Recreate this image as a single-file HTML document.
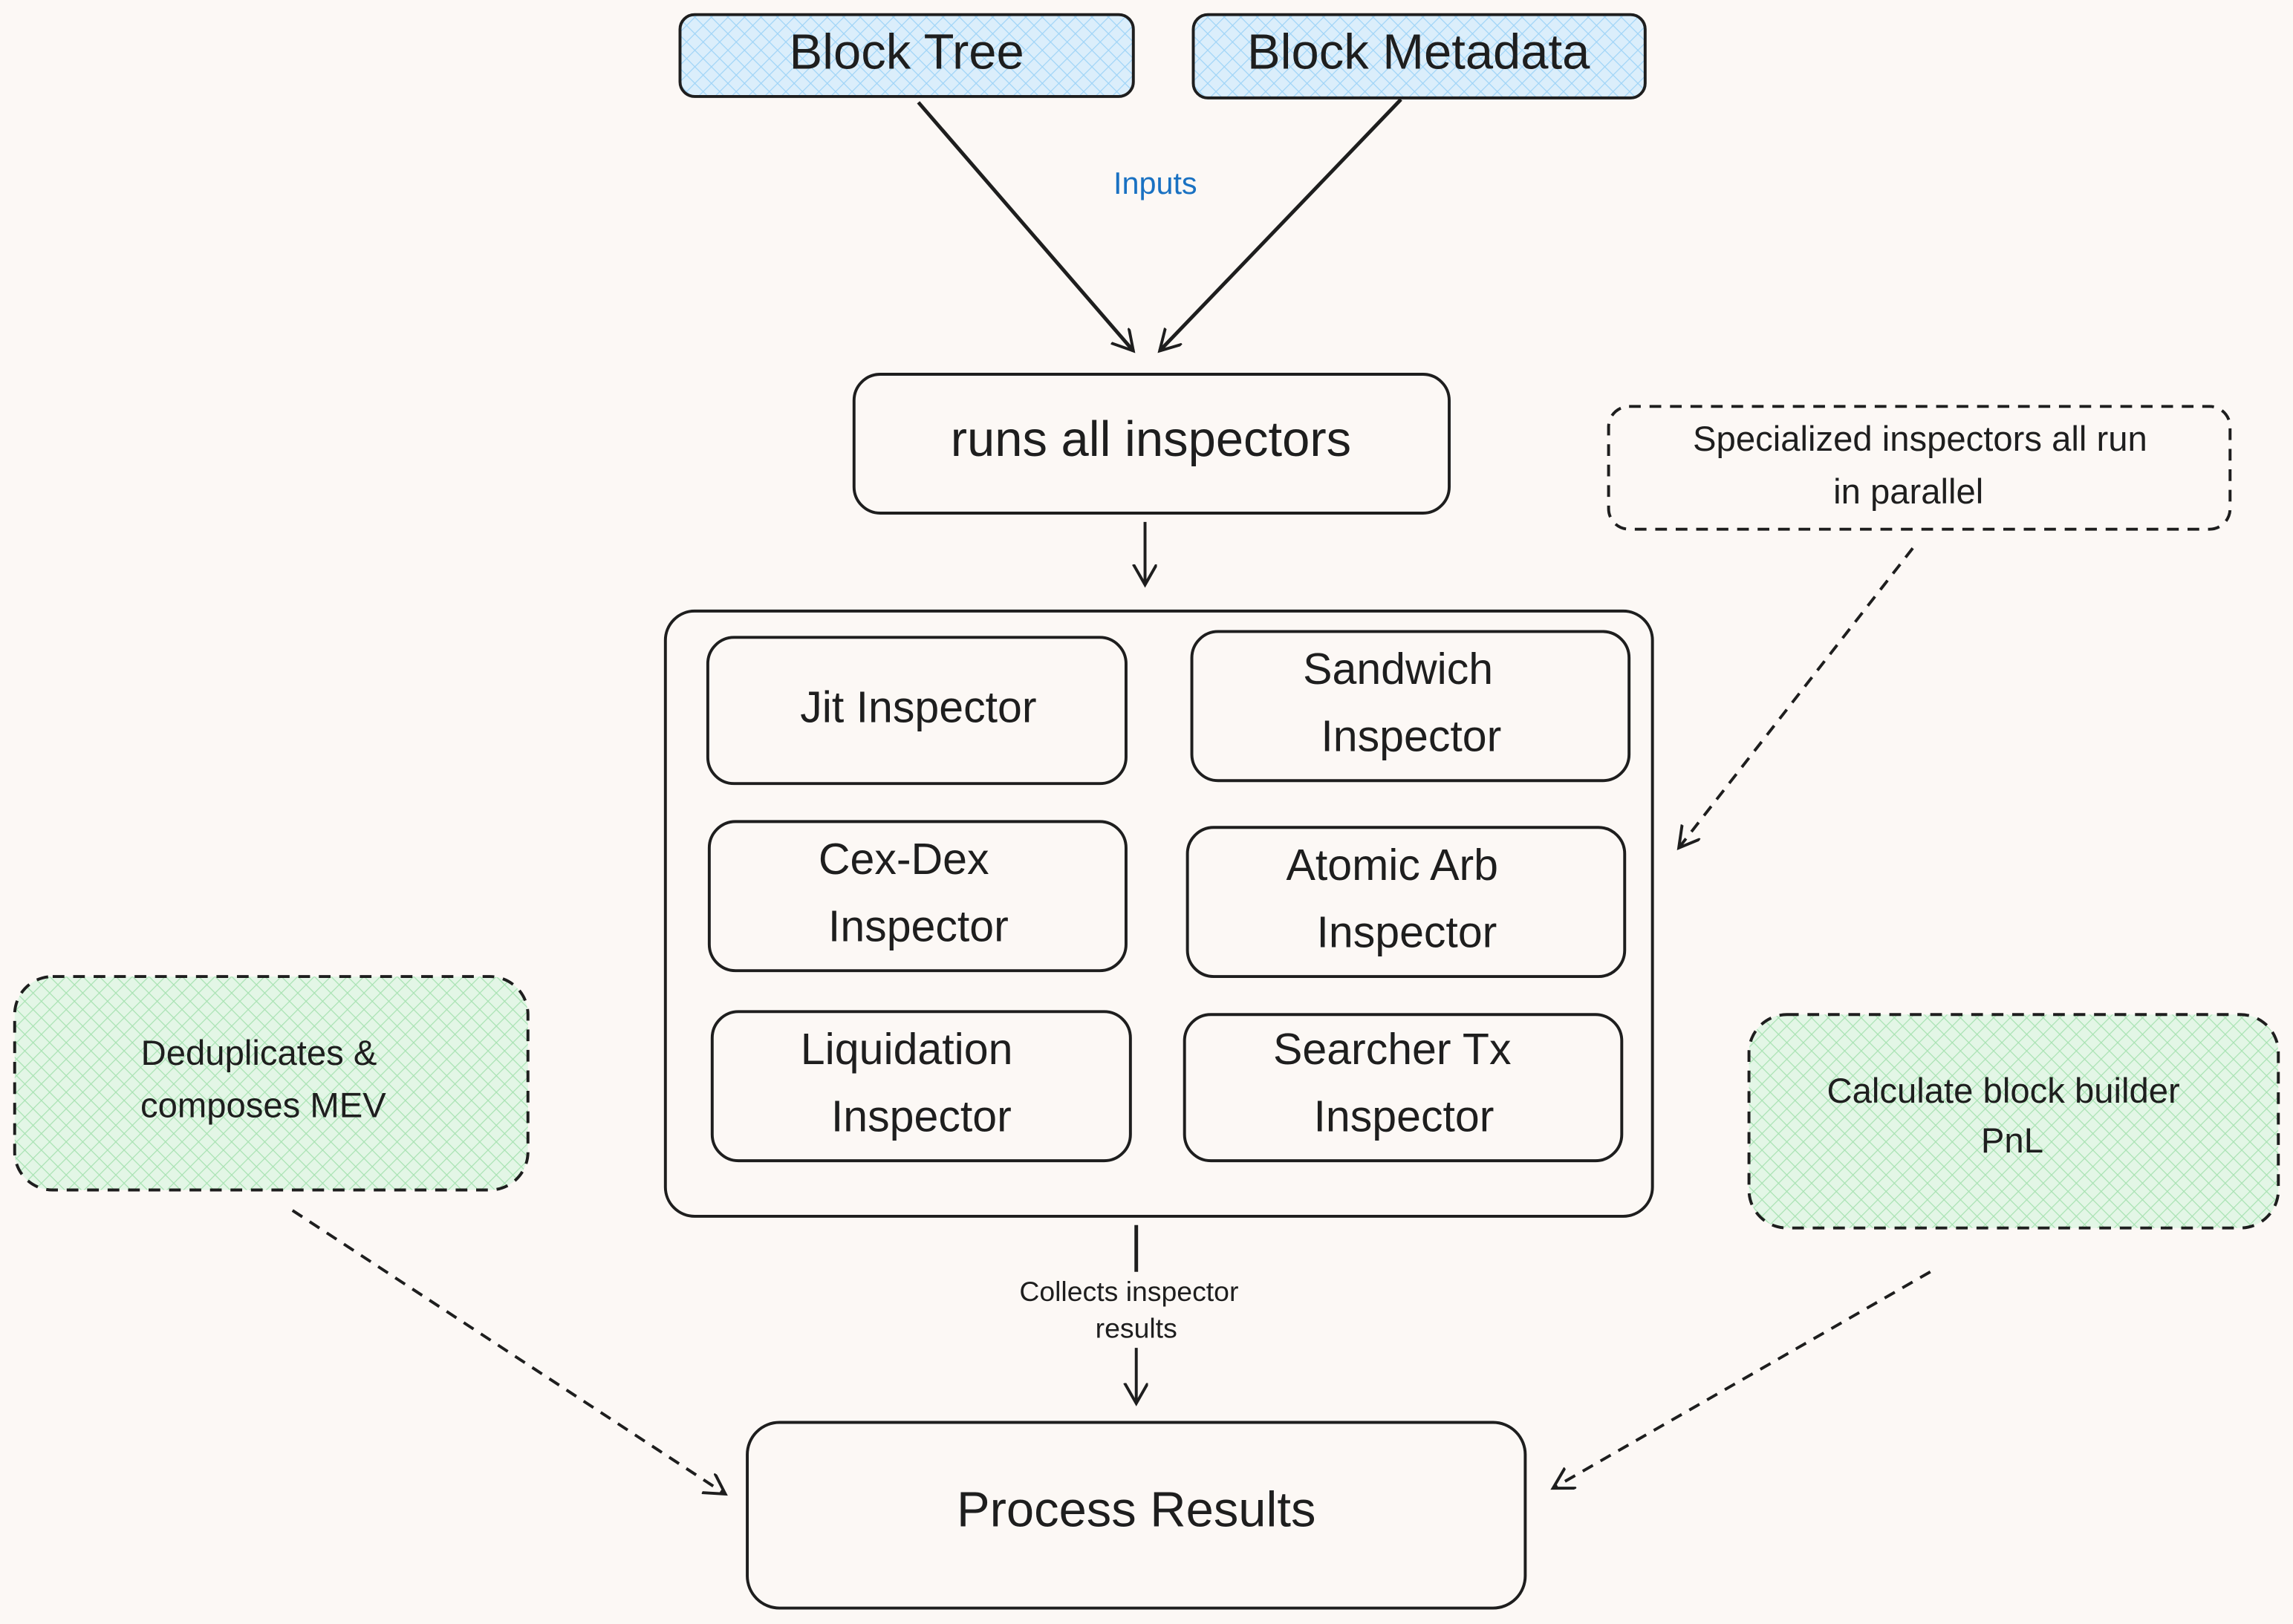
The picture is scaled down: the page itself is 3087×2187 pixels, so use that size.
<!DOCTYPE html>
<html><head><meta charset="utf-8"><style>
html,body{margin:0;padding:0;background:#fcf8f5;}
svg{display:block}
text{font-family:"Liberation Sans",sans-serif;fill:#1e1e1e;text-anchor:middle;dominant-baseline:middle}
</style></head><body>
<svg width="3087" height="2187" viewBox="0 0 1568 1110.9" xmlns="http://www.w3.org/2000/svg">
<defs>
<pattern id="blue" width="8" height="8" patternUnits="userSpaceOnUse" patternTransform="rotate(45)">
<rect width="8" height="8" fill="#dbeefb"/><path d="M0 0V8M0 0H8" stroke="#9fd4f7" stroke-width="1.2"/></pattern>
<pattern id="green" width="8" height="8" patternUnits="userSpaceOnUse" patternTransform="rotate(45)">
<rect width="8" height="8" fill="#e3f6e6"/><path d="M0 0V8M0 0H8" stroke="#a8e2b2" stroke-width="1.2"/></pattern>
<marker id="ah" markerWidth="20" markerHeight="20" refX="14" refY="8" orient="auto" markerUnits="userSpaceOnUse">
<path d="M0 0L14 8L0 16" fill="none" stroke="#1e1e1e" stroke-width="2"/></marker>
</defs>
<rect width="1568" height="1111" fill="#fcf8f5"/>
<g fill="none" stroke="#1e1e1e" stroke-width="2">
<rect x="465" y="10" width="310" height="56" rx="10" fill="url(#blue)"/>
<rect x="816" y="10" width="309" height="57" rx="10" fill="url(#blue)"/>
<line x1="628" y1="70" x2="775" y2="240" marker-end="url(#ah)" stroke-width="2.5"/>
<line x1="958" y1="68" x2="793" y2="240" marker-end="url(#ah)" stroke-width="2.5"/>
<rect x="584" y="256" width="407" height="95" rx="18"/>
<line x1="783" y1="357" x2="783" y2="400" marker-end="url(#ah)"/>
<rect x="455" y="418" width="675" height="414" rx="20"/>
<rect x="484" y="436" width="286" height="100" rx="18"/>
<rect x="815" y="432" width="299" height="102" rx="18"/>
<rect x="485" y="562" width="285" height="102" rx="18"/>
<rect x="812" y="566" width="299" height="102" rx="18"/>
<rect x="487" y="692" width="286" height="102" rx="18"/>
<rect x="810" y="694" width="299" height="100" rx="18"/>
<line x1="777" y1="838" x2="777" y2="870" stroke-width="2.5"/>
<line x1="777" y1="922" x2="777" y2="960" marker-end="url(#ah)"/>
<rect x="511" y="973" width="532" height="127" rx="22"/>
<g stroke-dasharray="8 6">
<rect x="1100" y="278" width="425" height="84" rx="14"/>
<line x1="1308" y1="375" x2="1148" y2="580" marker-end="url(#ah)"/>
<rect x="10" y="668" width="351" height="146" rx="26" fill="url(#green)"/>
<line x1="200" y1="828" x2="496" y2="1022" marker-end="url(#ah)"/>
<rect x="1196" y="694" width="362" height="146" rx="26" fill="url(#green)"/>
<line x1="1320" y1="870" x2="1062" y2="1018" marker-end="url(#ah)"/>
</g>
</g>
<text x="620" y="38" font-size="34">Block Tree</text>
<text x="970" y="38" font-size="34">Block Metadata</text>
<text x="790" y="127" font-size="21" style="fill:#1971c2">Inputs</text>
<text x="787" y="303" font-size="34">runs all inspectors</text>
<text x="628" y="486" font-size="30">Jit Inspector</text>
<text x="956" y="460" font-size="30">Sandwich</text>
<text x="965" y="506" font-size="30">Inspector</text>
<text x="618" y="590" font-size="30">Cex-Dex</text>
<text x="628" y="636" font-size="30">Inspector</text>
<text x="952" y="594" font-size="30">Atomic Arb</text>
<text x="962" y="640" font-size="30">Inspector</text>
<text x="620" y="720" font-size="30">Liquidation</text>
<text x="630" y="766" font-size="30">Inspector</text>
<text x="952" y="720" font-size="30">Searcher Tx</text>
<text x="960" y="766" font-size="30">Inspector</text>
<text x="772" y="885" font-size="19">Collects inspector</text>
<text x="777" y="910" font-size="19">results</text>
<text x="777" y="1035" font-size="34">Process Results</text>
<text x="1313" y="302" font-size="24">Specialized inspectors all run</text>
<text x="1305" y="338" font-size="24">in parallel</text>
<text x="177" y="722" font-size="24">Deduplicates &amp;</text>
<text x="180" y="758" font-size="24">composes MEV</text>
<text x="1370" y="748" font-size="24">Calculate block builder</text>
<text x="1376" y="782" font-size="24">PnL</text>
</svg>
</body></html>
